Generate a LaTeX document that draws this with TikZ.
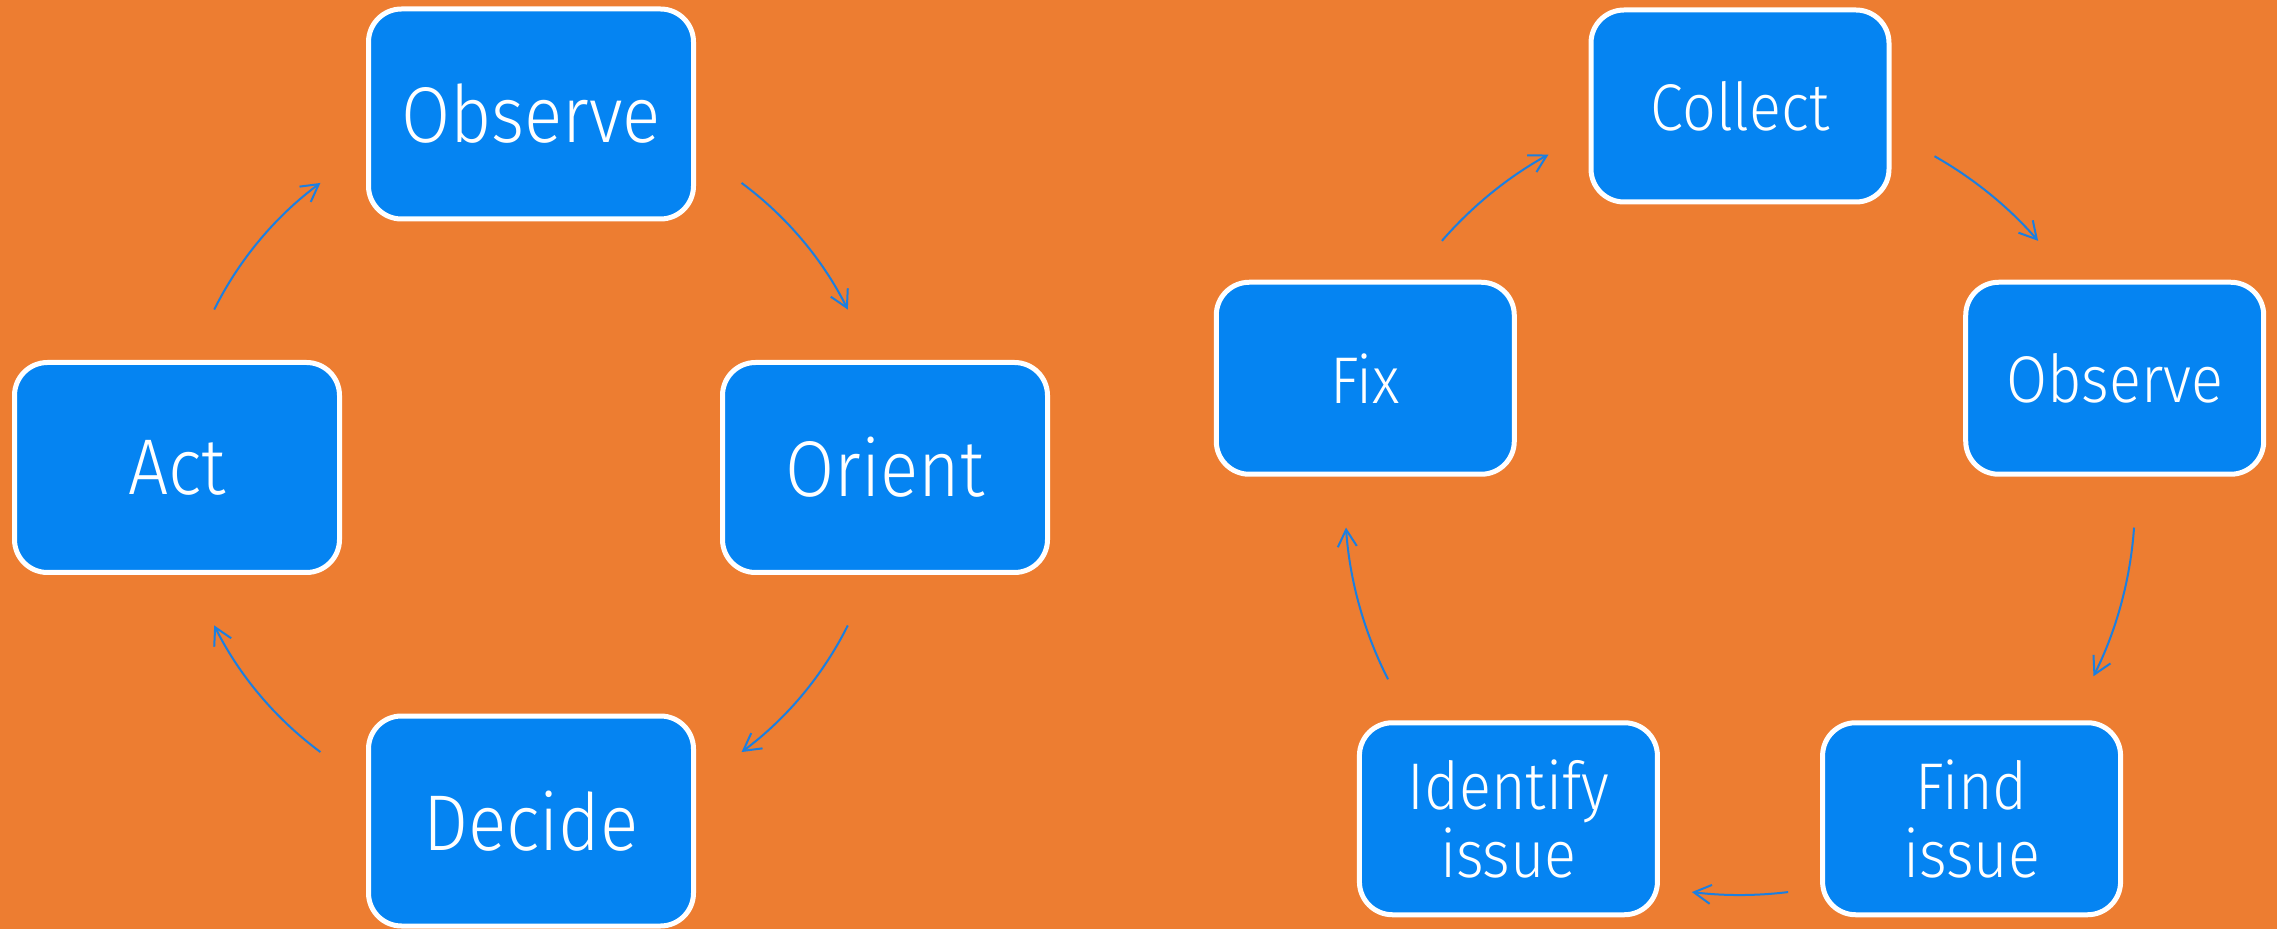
\documentclass[tikz,border=0pt]{standalone}
\usepackage{fontspec}
\setmainfont{Fira Sans}[UprightFont=* Light, FakeStretch=0.9]
\usetikzlibrary{calc,arrows.meta}
\definecolor{slideorange}{HTML}{ED7D31}
\definecolor{boxblue}{HTML}{0584F2}
\definecolor{arrowblue}{HTML}{1C7FE0}
\tikzset{
	phase/.style={draw=white, line width=0.05cm, fill=boxblue, rounded corners=0.33cm, text=white, align=center, inner sep=0pt},
	bigphase/.style={phase, minimum width=3.25cm, minimum height=2.10cm, font=\fontsize{22.5}{23}\selectfont},
	smallphase/.style={phase, minimum width=2.98cm, minimum height=1.92cm, font=\fontsize{18.8}{19.4}\selectfont},
	flow/.style={draw=arrowblue, line width=0.02cm, -{Straight Barb[length=1.7mm,width=1.9mm]}}
}

\begin{document}
\begin{tikzpicture}
		\useasboundingbox (0, 0) rectangle (22.77, 9.29);
		\fill[slideorange] (0, 0) rectangle (22.77, 9.29);
		
		%%%%% LEFT LOOP %%%%%
		\coordinate (ooda) at (5.31, 4.615);
		\node[bigphase] (observe) at ($(ooda)+(90:3.535)$) {Observe};
		\node[bigphase] (orient) at ($(ooda)+(0:3.54)$) {Orient};
		\node[bigphase] (decide) at ($(ooda)+(270:3.535)$) {Decide};
		\node[bigphase] (act) at ($(ooda)+(180:3.54)$) {Act};
		
		\draw[flow] ($(ooda)+(53.5:3.54)$) arc[start angle=53.5, end angle=26.5, radius=3.54];
		\draw[flow] ($(ooda)+(-26.5:3.54)$) arc[start angle=-26.5, end angle=-53.5, radius=3.54];
		\draw[flow] ($(ooda)+(233.5:3.54)$) arc[start angle=233.5, end angle=206.5, radius=3.54];
		\draw[flow] ($(ooda)+(153.5:3.54)$) arc[start angle=153.5, end angle=126.5, radius=3.54];
		
		%%%%% RIGHT LOOP %%%%%
		\coordinate (fixloop) at (17.40, 4.29);
		\node[smallphase] (collect) at ($(fixloop)+(90:3.94)$) {Collect};
		\node[smallphase] (watch) at ($(fixloop)+(18:3.94)$) {Observe};
		\node[smallphase] (find) at ($(fixloop)+(-54:3.94)$) {Find\\issue};
		\node[smallphase] (identify) at ($(fixloop)+(-126:3.94)$) {Identify\\issue};
		\node[smallphase] (fix) at ($(fixloop)+(162:3.94)$) {Fix};
		
		\draw[flow] ($(fixloop)+(60.5:3.95)$) arc[start angle=60.5, end angle=41, radius=3.95];
		\draw[flow] ($(fixloop)+(-4:3.95)$) arc[start angle=-4, end angle=-26.5, radius=3.95];
		\draw[flow] ($(fixloop)+(-83:3.95)$) arc[start angle=-83, end angle=-97, radius=3.95];
		\draw[flow] ($(fixloop)+(-153:3.95)$) arc[start angle=-153, end angle=-176, radius=3.95];
		\draw[flow] ($(fixloop)+(139:3.95)$) arc[start angle=139, end angle=119, radius=3.95];
\end{tikzpicture}
\end{document}
